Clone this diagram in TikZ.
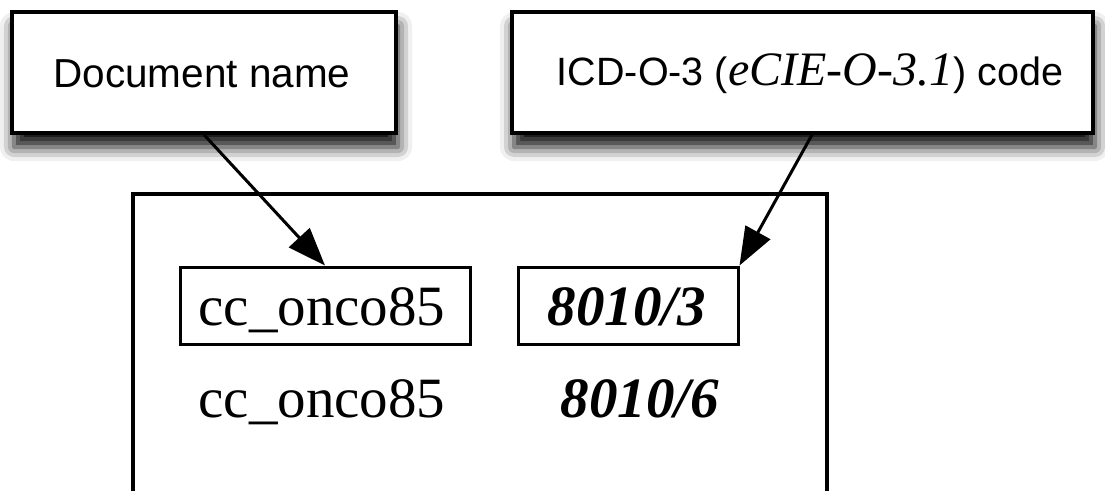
\documentclass[tikz,border=0pt]{standalone}
\usepackage{fontspec}
\setmainfont{Liberation Serif}
\setsansfont{Liberation Sans}
\usetikzlibrary{arrows.meta,shadows.blur}
\tikzset{
  topbox/.style={draw=black, line width=3.5pt, fill=white, inner sep=0pt,
    blur shadow={shadow xshift=2pt, shadow yshift=-14pt, shadow blur radius=14pt, shadow opacity=95}},
  innerbox/.style={draw=black, line width=3pt, inner sep=0pt},
  serifval/.style={font=\fontsize{57}{60}\selectfont, text height=39pt, text depth=0pt, inner sep=0pt},
  codeval/.style={font=\fontsize{57}{60}\selectfont\bfseries\itshape, text height=39pt, text depth=0pt, inner sep=0pt},
  conn/.style={line width=3pt, -{Triangle[length=38pt,width=28pt]}}
}
\begin{document}
\begin{tikzpicture}[x=1pt,y=-1pt]
\useasboundingbox (0,0) rectangle (1105,490);
% main container (open at bottom edge of picture)
\draw[line width=3.5pt] (133,492) -- (133,194) -- (827,194) -- (827,492);
% top boxes
\node[topbox, minimum width=384pt, minimum height=121pt] (box1) at (204,72.5) {};
\node[font=\sffamily\fontsize{40.5}{42}\selectfont] (t1) at (202,74) {Document name};
\node[topbox, minimum width=581pt, minimum height=121pt] (box2) at (802.5,72.5) {};
\node[font=\sffamily\fontsize{39.5}{42}\selectfont] (t2) at (810,74)
  {ICD-O-3 ({\rmfamily\itshape\fontsize{48}{50}\selectfont eCIE-O-3.1}) code};
% inner boxes
\node[innerbox, minimum width=290pt, minimum height=77pt] (ib1) at (325,305.5) {};
\node[serifval] (v1) at (322,306) {cc\_onco85};
\node[innerbox, minimum width=220pt, minimum height=77pt] (ib2) at (628,305.5) {};
\node[codeval] (c1) at (627,306) {8010/3};
% second row
\node[serifval] (v2) at (322,398) {cc\_onco85};
\node[codeval] (c2) at (640,398) {8010/6};
% connectors
\coordinate (a2) at (813,133);
\draw[conn] (box1.south) -- (ib1.north);
\draw[conn] (a2) -- (ib2.north east);
\end{tikzpicture}
\end{document}
